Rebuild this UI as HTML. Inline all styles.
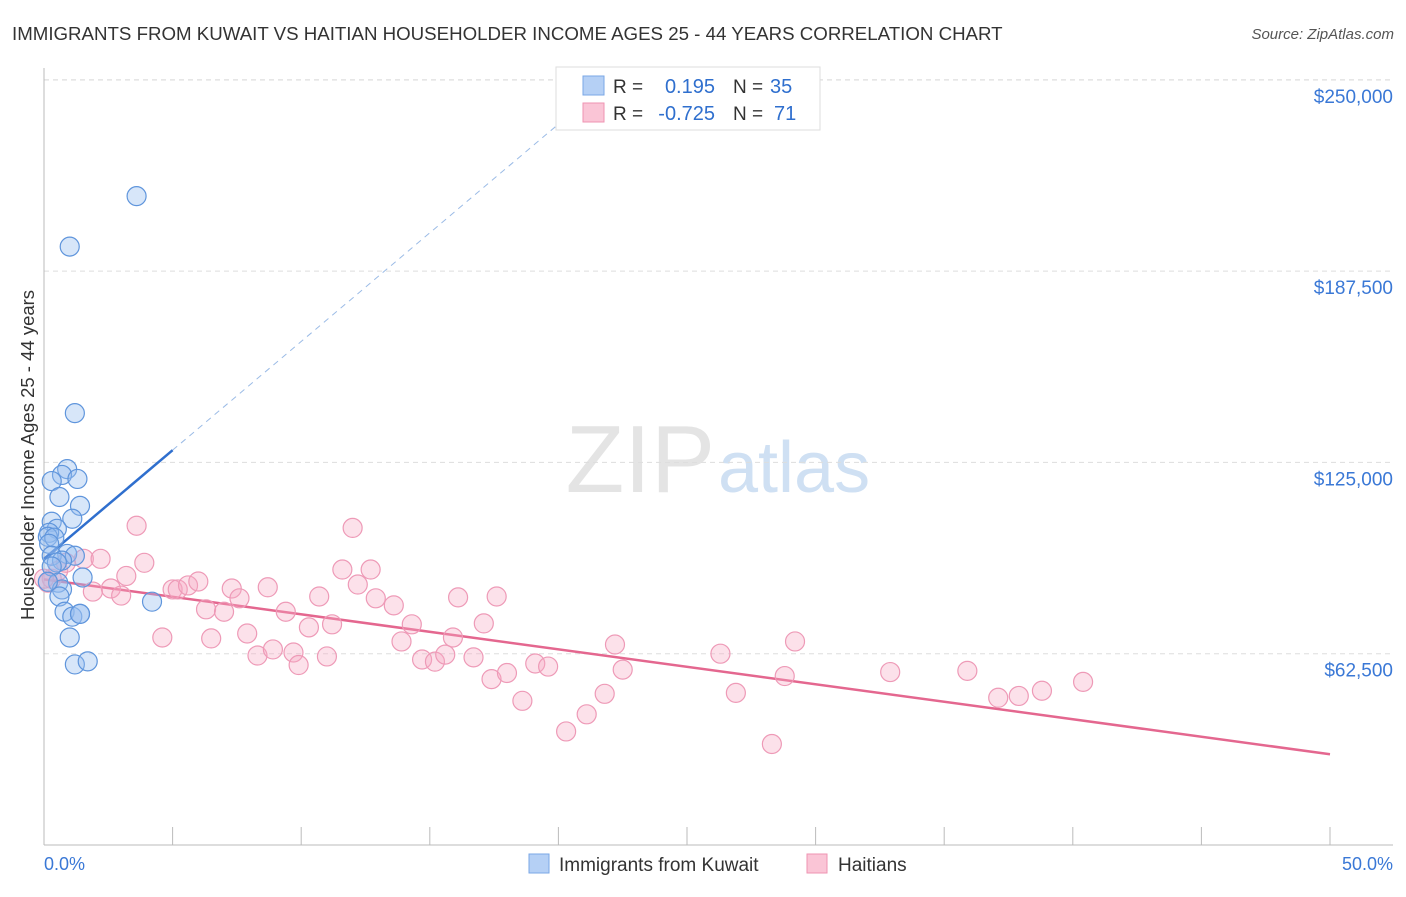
<!DOCTYPE html>
<html><head><meta charset="utf-8"><style>
body{margin:0;background:#fff;font-family:"Liberation Sans",sans-serif;}
svg text{font-family:"Liberation Sans",sans-serif;}
</style></head><body>
<svg id="chart" width="1406" height="892" xmlns="http://www.w3.org/2000/svg">
<text x="12" y="40" font-size="18.7" fill="#333">IMMIGRANTS FROM KUWAIT VS HAITIAN HOUSEHOLDER INCOME AGES 25 - 44 YEARS CORRELATION CHART</text>
<text x="1394" y="39" font-size="15" fill="#555" text-anchor="end" font-style="italic">Source: ZipAtlas.com</text>
<text x="715" y="492" font-size="96" fill="#e4e4e4" text-anchor="end" font-family="Liberation Serif">ZIP</text>
<text x="718" y="492" font-size="72" fill="#cfe0f3">atlas</text>
<g id="grid"></g><g id="axes"></g><g id="lines"></g><g id="pts"></g>
<text x="34" y="455" font-size="18.5" fill="#333" text-anchor="middle" transform="rotate(-90 34 455)">Householder Income Ages 25 - 44 years</text>
<g>
<rect x="556" y="67" width="264" height="63" fill="#fff" stroke="#ddd"/>
<rect x="583" y="76" width="21" height="19" fill="#b5d0f5" stroke="#7aa7e6"/>
<rect x="583" y="103" width="21" height="19" fill="#fac5d6" stroke="#ef93b2"/>
<text x="613" y="93" font-size="19" fill="#333">R =</text><text x="715" y="93" font-size="20" fill="#2f6fce" text-anchor="end">0.195</text>
<text x="733" y="93" font-size="19" fill="#333">N =</text><text x="770" y="93" font-size="20" fill="#2f6fce">35</text>
<text x="613" y="120" font-size="19" fill="#333">R =</text><text x="715" y="120" font-size="20" fill="#2f6fce" text-anchor="end">-0.725</text>
<text x="733" y="120" font-size="19" fill="#333">N =</text><text x="774" y="120" font-size="20" fill="#2f6fce">71</text>
</g>
<g>
<rect x="529" y="854" width="20" height="19" fill="#b5d0f5" stroke="#7aa7e6"/>
<text x="559" y="871" font-size="19" fill="#333">Immigrants from Kuwait</text>
<rect x="807" y="854" width="20" height="19" fill="#fac5d6" stroke="#ef93b2"/>
<text x="838" y="871" font-size="19" fill="#333">Haitians</text>
</g>
</svg>
<script>
const yTicks=[62500,125000,187500,250000];
const yTickLabels=["$62,500","$125,000","$187,500","$250,000"];
const xTickLabels=["0.0%","50.0%"];
const kuwaitX=[3.6,1.0,1.2,0.9,0.7,0.3,1.3,0.6,1.4,1.1,0.3,0.5,0.2,0.15,0.4,0.2,0.9,0.3,1.2,0.7,0.5,0.3,1.5,0.55,0.7,0.6,4.2,0.8,1.1,1.4,1.4,1.0,1.2,1.7,0.15];
const kuwaitY=[212000,195500,141100,122800,120900,118900,119600,113700,110800,106600,105600,103300,102000,100700,100400,98400,95100,94500,94500,92900,92300,91000,87400,85700,83500,81200,79500,76200,74600,75500,75500,67800,59000,60000,86000];
const haitiX=[0.3,0.55,0.85,1.55,2.2,3.2,3.9,2.6,3.0,1.9,3.6,4.6,5.0,5.2,5.6,6.0,6.3,6.5,7.0,7.3,7.6,7.9,8.3,8.7,8.9,9.4,9.7,9.9,10.3,10.7,11.0,11.2,11.6,12.0,12.2,12.7,12.9,13.6,13.9,14.3,14.7,15.2,15.6,15.9,16.1,16.7,17.1,17.4,17.6,18.0,18.6,19.1,19.6,20.3,21.1,21.8,22.2,22.5,26.3,26.9,28.3,28.8,29.2,32.9,35.9,37.1,37.9,38.8,40.4,0.15,0.0];
const haitiY=[87000,89600,92200,93500,93500,87900,92200,83800,81500,82800,104300,67800,83500,83500,84800,86100,77000,67500,76200,83800,80600,69100,61900,84200,63900,76200,62900,58800,71100,81200,61600,72100,90000,103600,85100,90000,80600,78300,66500,72100,60600,59900,62200,67800,80900,61300,72400,54200,81200,56200,47100,59300,58300,37100,42700,49400,65500,57300,62500,49700,33000,55200,66500,56500,56900,48100,48700,50400,53300,85700,87000];
const X0=44,X1=1330,Y0=845,PX=191.3/62500;
const sx=v=>X0+(v/50)*(X1-X0), sy=v=>Y0-v*PX;
const NS="http://www.w3.org/2000/svg";
function mk(tag,attrs,parent,txt){const e=document.createElementNS(NS,tag);for(const k in attrs)e.setAttribute(k,attrs[k]);if(txt!==undefined)e.textContent=txt;document.getElementById(parent).appendChild(e);return e;}
mk('line',{x1:44,y1:80,x2:1393,y2:80,stroke:'#ddd','stroke-dasharray':'5,4'},'grid');
yTicks.forEach((t,i)=>{
 const g=mk('line',{x1:44,y1:sy(t),x2:1393,y2:sy(t),stroke:'#ddd','stroke-dasharray':'5,4'},'grid');
 
 
 const l=mk('text',{x:1393,y:sy(t)+23,'font-size':19,fill:'#3a78d6','text-anchor':'end'},'axes',yTickLabels[i]);
 
 
});
mk('line',{x1:44,y1:68,x2:44,y2:845,stroke:'#bbb'},'axes');
mk('line',{x1:44,y1:845,x2:1393,y2:845,stroke:'#bbb'},'axes');
for(let i=0;i<=10;i++){const tk=mk('line',{x1:sx(i*5),y1:827,x2:sx(i*5),y2:845,stroke:'#bbb'},'axes');
 
 }
const xl0=mk('text',{x:44,y:870,'font-size':18,fill:'#3a78d6'},'axes',xTickLabels[0]);


const xl1=mk('text',{x:1393,y:870,'font-size':18,fill:'#3a78d6','text-anchor':'end'},'axes',xTickLabels[1]);


function fit(xs,ys){const n=xs.length;const mx=xs.reduce((a,b)=>a+b)/n,my=ys.reduce((a,b)=>a+b)/n;let sxy=0,sxx=0;for(let i=0;i<n;i++){sxy+=(xs[i]-mx)*(ys[i]-my);sxx+=(xs[i]-mx)**2;}const b=sxy/sxx;return [my-b*mx,b];}
const [pa,pb]=fit(haitiX,haitiY);
const pl=mk('line',{x1:sx(0),y1:sy(pa),x2:sx(50),y2:sy(pa+pb*50),stroke:'#e4678f','stroke-width':2.5},'lines');


const ka=93500,kb=7100;
const bd=mk('line',{x1:sx(5),y1:sy(ka+kb*5),x2:sx(20),y2:sy(ka+kb*20),stroke:'#9bbbe6','stroke-width':1,'stroke-dasharray':'6,5'},'lines');


const bl=mk('line',{x1:sx(0),y1:sy(ka),x2:sx(5),y2:sy(ka+kb*5),stroke:'#2f6fce','stroke-width':2.5},'lines');


haitiX.forEach((v,i)=>{const c=mk('circle',{cx:sx(v),cy:sy(haitiY[i]),r:9.5,fill:'rgba(246,170,196,0.35)',stroke:'#ee9ab7','stroke-width':1.2},'pts');
 
 });
kuwaitX.forEach((v,i)=>{const c=mk('circle',{cx:sx(v),cy:sy(kuwaitY[i]),r:9.5,fill:'rgba(150,190,240,0.38)',stroke:'#5f95dc','stroke-width':1.2},'pts');
 
 });
</script>
</body></html>
